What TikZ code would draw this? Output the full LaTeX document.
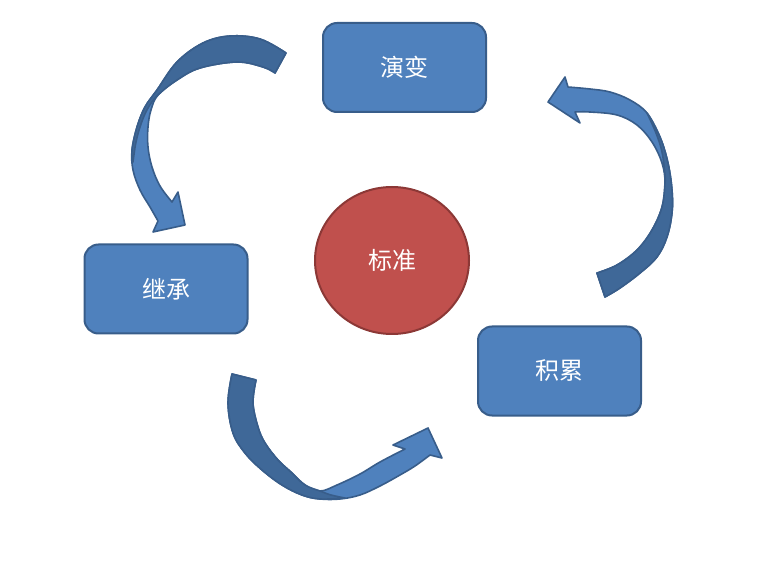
\documentclass[tikz,border=0pt]{standalone}
\usepackage{fontspec}
\newfontfamily\cjk{Noto Sans CJK SC}
\usetikzlibrary{shapes.geometric}
\definecolor{boxfill}{HTML}{4F81BD}
\definecolor{boxline}{HTML}{385D8A}
\definecolor{darkband}{HTML}{3F6898}
\definecolor{redfill}{HTML}{C0504D}
\definecolor{redline}{HTML}{8C3836}
\begin{document}
\begin{tikzpicture}[x=1pt,y=-1pt,
  stagebox/.style={draw=boxline, fill=boxfill, line width=2pt, rounded corners=14pt,
    minimum width=163pt, minimum height=89pt, inner sep=0pt,
    text=white, font=\cjk\fontsize{24}{28}\selectfont},
  centrebox/.style={ellipse, draw=redline, fill=redfill, line width=2pt,
    minimum width=154pt, minimum height=147pt, inner sep=0pt,
    text=white, font=\cjk\fontsize{24}{28}\selectfont},
  bandlight/.style={fill=boxfill, draw=boxline, line width=1.6pt, line join=round},
  banddark/.style={fill=darkband, draw=boxline, line width=1.6pt, line join=round},
  sm/.style={smooth, tension=0.6}]
\useasboundingbox (0,0) rectangle (772,572);

% arrow 1: from 演变 to 继承
\path[bandlight] plot[sm] coordinates {(286,53) (260,39) (230,36) (203,43) (177,62) (157,90) (145,107) (137,127) (132,150) (133,170) (140,190) (150,207) (158,221)}
  -- (153,232) -- (185,225) -- (178,192)
  -- plot[sm] coordinates {(172,202) (160,186) (152,167) (148,147) (148,127) (151,110) (158,95) (177,80) (200,68) (237,62) (263,67) (275,73)} -- cycle;
\path[banddark] plot[sm] coordinates {(286,53) (260,39) (230,36) (203,43) (177,62) (157,90) (145,107) (137,127) (132,150) (133,162)}
  -- plot[sm] coordinates {(133,162) (136,142) (141,124) (148,108) (158,95) (177,80) (200,68) (237,62) (263,67) (275,73)} -- cycle;

% arrow 2: from 积累 to 演变
\path[bandlight] plot[sm] coordinates {(605,297) (620,288) (640,273) (657,257) (667,237) (672,213) (672,190) (668,163) (660,137) (647,113) (630,100) (610,92) (590,89) (568,87)}
  -- (565,77) -- (548,102) -- (580,123)
  -- plot[sm] coordinates {(575,112) (590,112) (617,115) (637,125) (652,142) (662,163) (665,183) (662,207) (652,230) (637,250) (617,265) (597,273)} -- cycle;
\path[banddark] plot[sm] coordinates {(605,297) (620,288) (640,273) (657,257) (667,237) (672,213) (672,190) (668,163) (660,137) (647,113)}
  -- plot[sm] coordinates {(647,113) (656,133) (662,152) (665,175) (665,183) (662,207) (652,230) (637,250) (617,265) (597,273)} -- cycle;

% arrow 3: from 继承 to 积累
\path[bandlight] plot[sm] coordinates {(232,374) (228,403) (233,433) (245,453) (262,470) (282,485) (302,495) (320,499) (340,499) (360,495) (380,486) (400,475) (415,466) (430,455)}
  -- (442,458) -- (428,428) -- (393,445)
  -- plot[sm] coordinates {(405,449) (380,462) (360,474) (337,485) (320,491) (305,485) (292,473) (278,460) (265,443) (258,427) (253,403) (256,380)} -- cycle;
\path[banddark] plot[sm] coordinates {(232,374) (228,403) (233,433) (245,453) (262,470) (282,485) (302,495) (320,499) (345,498)}
  -- plot[sm] coordinates {(345,498) (331,495) (320,491) (305,485) (292,473) (278,460) (265,443) (258,427) (253,403) (256,380)} -- cycle;

\node[stagebox] (yanbian) at (404.5,67.5) {演变};
\node[stagebox] (jicheng) at (166,289) {继承};
\node[stagebox] (jilei) at (559.5,371) {积累};
\node[centrebox] (biaozhun) at (392,260.5) {标准};
\end{tikzpicture}
\end{document}
